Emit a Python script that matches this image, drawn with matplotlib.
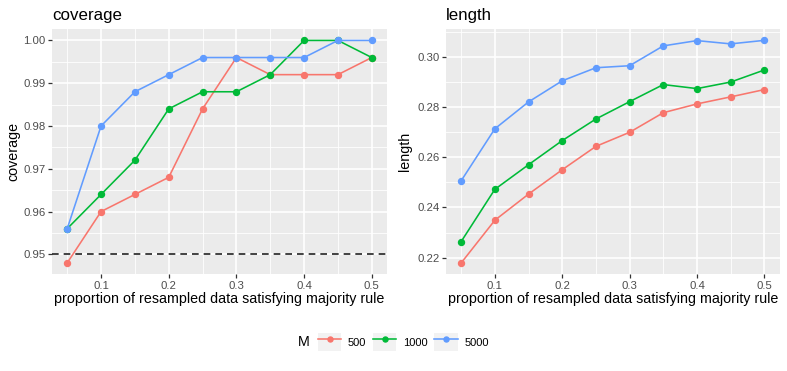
import matplotlib
matplotlib.use("Agg")
import matplotlib.pyplot as plt
from matplotlib.legend_handler import HandlerLine2D
from matplotlib.lines import Line2D
from matplotlib.patches import Rectangle
import numpy as np

plt.rcParams['font.family'] = ['Liberation Sans', 'DejaVu Sans']

proportion = [0.05, 0.10, 0.15, 0.20, 0.25, 0.30, 0.35, 0.40, 0.45, 0.50]
M_levels = ['500', '1000', '5000']
colors = ['#F8766D', '#00BA38', '#619CFF']

coverage_500 = [0.948, 0.960, 0.964, 0.968, 0.984, 0.996, 0.992, 0.992, 0.992, 0.996]
coverage_1000 = [0.956, 0.964, 0.972, 0.984, 0.988, 0.988, 0.992, 1.000, 1.000, 0.996]
coverage_5000 = [0.956, 0.980, 0.988, 0.992, 0.996, 0.996, 0.996, 0.996, 1.000, 1.000]

length_500 = [0.2179, 0.2349, 0.2453, 0.2550, 0.2643, 0.2699, 0.2777, 0.2812, 0.2840, 0.2869]
length_1000 = [0.2264, 0.2472, 0.2570, 0.2666, 0.2752, 0.2821, 0.2889, 0.2873, 0.2899, 0.2947]
length_5000 = [0.2506, 0.2713, 0.2820, 0.2904, 0.2956, 0.2964, 0.3043, 0.3064, 0.3051, 0.3065]

nominal = 0.95

x_major = [0.1, 0.2, 0.3, 0.4, 0.5]
x_minor = [0.05, 0.15, 0.25, 0.35, 0.45]
cov_major = [0.95, 0.96, 0.97, 0.98, 0.99, 1.00]
cov_minor = [0.955, 0.965, 0.975, 0.985, 0.995]
len_major = [0.22, 0.24, 0.26, 0.28, 0.30]
len_minor = [0.23, 0.25, 0.27, 0.29, 0.31]

W, H = 787, 371
fig = plt.figure(figsize=(W / 100, H / 100), dpi=100)
fig.patch.set_facecolor('white')

def px_axes(l, r, t, b):
    return fig.add_axes([l / W, 1 - b / H, (r - l) / W, (b - t) / H])

ax1 = px_axes(52, 387, 29.3, 274)
ax2 = px_axes(446, 779.5, 29.3, 274)

def style(ax, yt_major, yt_minor, yfmt):
    ax.set_facecolor('#EBEBEB')
    for s in ax.spines.values():
        s.set_visible(False)
    ax.set_xticks(x_major)
    ax.set_xticks(x_minor, minor=True)
    ax.set_yticks(yt_major)
    ax.set_yticks(yt_minor, minor=True)
    ax.set_xticklabels([f"{v:g}" for v in x_major])
    ax.set_yticklabels([yfmt.format(v) for v in yt_major])
    ax.grid(True, which='major', color='white', lw=1.2)
    ax.grid(True, which='minor', color='white', lw=0.6)
    ax.set_axisbelow(True)
    ax.tick_params(which='major', length=2.6, width=0.9, color='#333333',
                   labelcolor='#4D4D4D', labelsize=8.2, pad=2.1)
    ax.tick_params(which='minor', length=0)
    ax.set_xlim(0.0275, 0.5225)

style(ax1, cov_major, cov_minor, "{:.2f}")
style(ax2, len_major, len_minor, "{:.2f}")

cov_series = [coverage_500, coverage_1000, coverage_5000]
len_series = [length_500, length_1000, length_5000]

ax1.axhline(nominal, color='#222222', lw=1.2, linestyle=(0, (4, 3)), zorder=2)
for ys, c in zip(cov_series, colors):
    ax1.plot(proportion, ys, color=c, lw=1.15, marker='o', ms=4.3, zorder=3)
for ys, c in zip(len_series, colors):
    ax2.plot(proportion, ys, color=c, lw=1.15, marker='o', ms=4.3, zorder=3)

ax1.set_ylim(0.9454, 1.0026)
ax2.set_ylim(0.2135, 0.3109)

for ax, title in [(ax1, 'coverage'), (ax2, 'length')]:
    ax.set_title(title, loc='left', fontsize=12.2, pad=7, color='black')
    ax.set_ylabel(title, fontsize=10.3)
    ax.set_xlabel('proportion of resampled data satisfying majority rule', fontsize=10.3)
    ax.xaxis.set_label_coords(0.5, -0.073)

ax1.yaxis.set_label_coords(-0.0955, 0.5)
ax2.yaxis.set_label_coords(-0.103, 0.5)

class KeyHandler(HandlerLine2D):
    def create_artists(self, legend, orig_handle, xdescent, ydescent,
                       width, height, fontsize, trans):
        bg = Rectangle((-xdescent, -ydescent), width, height,
                       facecolor='#F2F2F2', edgecolor='none', transform=trans)
        arts = super().create_artists(legend, orig_handle, xdescent, ydescent,
                                      width, height, fontsize, trans)
        return [bg] + list(arts)

handles = [Line2D([], [], color=c, lw=1.15, marker='o', ms=3.6) for c in colors]
leg = fig.legend(handles, M_levels, loc='center', bbox_to_anchor=(403.5 / W, 1 - 342 / H),
                 ncol=3, frameon=False, fontsize=8.0, handlelength=2.1,
                 handleheight=2.0, handletextpad=0.6, columnspacing=0.6,
                 borderpad=0, borderaxespad=0,
                 handler_map={Line2D: KeyHandler(numpoints=1)})
fig.text(298 / W, 1 - 342 / H, 'M', fontsize=10.3, ha='left', va='center')

fig.savefig('out.png', dpi=100)
